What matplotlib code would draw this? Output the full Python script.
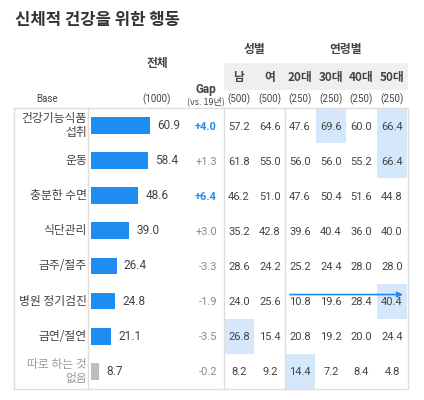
import matplotlib
matplotlib.use("Agg")
import matplotlib.pyplot as plt
from matplotlib.patches import Rectangle

KR = ["Noto Sans CJK KR", "DejaVu Sans"]
NUM = ["Roboto", "DejaVu Sans"]

title = "신체적 건강을 위한 행동"
items = ["건강기능식품\n섭취", "운동", "충분한 수면", "식단관리", "금주/절주",
         "병원 정기검진", "금연/절연", "따로 하는 것\n없음"]
total = [60.9, 58.4, 48.6, 39.0, 26.4, 24.8, 21.1, 8.7]
gap = [4.0, 1.3, 6.4, 3.0, -3.3, -1.9, -3.5, -0.2]
gap_bold = [True, False, True, False, False, False, False, False]
columns = ["남", "여", "20대", "30대", "40대", "50대"]
bases = ["(500)", "(500)", "(250)", "(250)", "(250)", "(250)"]
table = [
    [57.2, 64.6, 47.6, 69.6, 60.0, 66.4],
    [61.8, 55.0, 56.0, 56.0, 55.2, 66.4],
    [46.2, 51.0, 47.6, 50.4, 51.6, 44.8],
    [35.2, 42.8, 39.6, 40.4, 36.0, 40.0],
    [28.6, 24.2, 25.2, 24.4, 28.0, 28.0],
    [24.0, 25.6, 10.8, 19.6, 28.4, 40.4],
    [26.8, 15.4, 20.8, 19.2, 20.0, 24.4],
    [8.2, 9.2, 14.4, 7.2, 8.4, 4.8],
]
# (row, column) cells that are highlighted
highlights = [(0, 3), (0, 5), (1, 5), (5, 5), (6, 0), (7, 2)]

BLUE = "#1f8cf2"
LIGHT = "#d5e8fb"
DARK = "#444444"
GRAY = "#8a8a8a"

W, H = 424, 400
fig = plt.figure(figsize=(W / 100, H / 100), dpi=100)
fig.patch.set_facecolor("white")

# overlay in pixel coordinates
ax = fig.add_axes([0, 0, 1, 1])
ax.set_xlim(0, W)
ax.set_ylim(H, 0)
ax.axis("off")

top, row_h = 108, 35.1
n = len(items)
bottom = top + row_h * n
col_x = [239, 270, 300, 331, 361, 392]
col_w = 30.8

ax.text(15, 20, title, family=KR, fontsize=12, fontweight="bold",
        color="#333333", va="center", ha="left")

# header
ax.add_patch(Rectangle((224, 63), 184, 27, color="#efefef", lw=0, zorder=0))
ax.text(254, 50, "성별", family=KR, fontsize=8.5, fontweight="bold", color=DARK,
        ha="center", va="center")
ax.text(346, 50, "연령별", family=KR, fontsize=8.5, fontweight="bold", color=DARK,
        ha="center", va="center")
ax.text(157, 64, "전체", family=KR, fontsize=8.5, fontweight="bold", color=DARK,
        ha="center", va="center")
ax.text(206, 90, "Gap", family=NUM, fontsize=8.5, fontweight="bold", color=DARK,
        ha="center", va="center")
ax.text(206, 101, "(vs. 19년)", family=KR, fontsize=6.5, color=DARK,
        ha="center", va="center")
ax.text(47, 99, "Base", family=NUM, fontsize=7, color=DARK, ha="center", va="center")
ax.text(157, 99, "(1000)", family=NUM, fontsize=7, color=DARK, ha="center", va="center")
for x, c, b in zip(col_x, columns, bases):
    ax.text(x, 78, c, family=KR, fontsize=8.5, fontweight="bold", color=DARK,
            ha="center", va="center")
    ax.text(x, 99, b, family=NUM, fontsize=7, color=DARK, ha="center", va="center")

# highlighted cells
for r, c in highlights:
    ax.add_patch(Rectangle((col_x[c] - col_w / 2, top + r * row_h), col_w, row_h,
                           color=LIGHT, lw=0, zorder=0))

# frame lines
lc = "#dedede"
ax.plot([14, 408, 408, 14, 14], [top, top, bottom, bottom, top], color=lc, lw=1)
for x in [88, 223.5, 285]:
    ax.plot([x, x], [top, bottom], color=lc, lw=1)

for i, label in enumerate(items):
    y = top + row_h * (i + 0.5)
    last = i == n - 1
    ax.text(87, y, label, family=KR, fontsize=8.5, color="#999999" if last else DARK,
            ha="right", va="center", linespacing=1.1)
    ax.text(217, y + 1, f"{gap[i]:+.1f}", family=NUM, fontsize=8,
            fontweight="bold" if gap_bold[i] else "normal",
            color=BLUE if gap_bold[i] else GRAY, ha="right", va="center")
    for x, v in zip(col_x, table[i]):
        ax.text(x, y + 1, f"{v:.1f}", family=NUM, fontsize=8, color=DARK,
                ha="center", va="center")

# trend arrow on 병원 정기검진 row
ay = top + row_h * 5.5 - 6.5
ax.annotate("", xy=(403, ay), xytext=(290, ay),
            arrowprops=dict(arrowstyle="-|>", color=BLUE, lw=1.2,
                            mutation_scale=8, shrinkA=0, shrinkB=0))

# bars on their own axes
bx = fig.add_axes([91 / W, 1 - bottom / H, 97 / W, (bottom - top) / H])
bx.set_xlim(0, 100)
bx.set_ylim(n - 0.5, -0.5)
bx.axis("off")
bx.patch.set_alpha(0)
colors = [BLUE] * (n - 1) + ["#bdbdbd"]
bx.barh(range(n), total, height=0.48, color=colors)
for i, v in enumerate(total):
    bx.text(v + 7.5, i, f"{v:.1f}", family=NUM, fontsize=8.5, color=DARK,
            ha="left", va="center")

fig.savefig("out.png", dpi=100, facecolor="white")
